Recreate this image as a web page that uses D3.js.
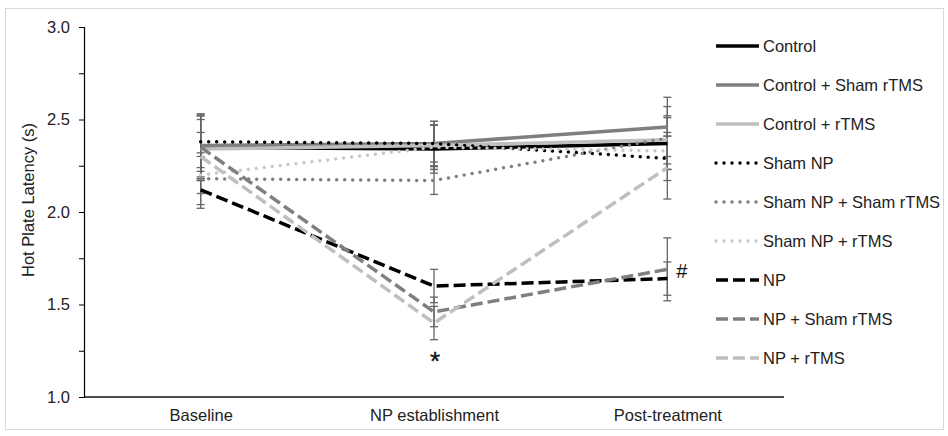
<!DOCTYPE html>
<html>
<head>
<meta charset="utf-8">
<script src="https://cdn.jsdelivr.net/npm/d3@7"></script>
<style>
  html, body { margin: 0; padding: 0; background: #fff; }
  svg { display: block; font-family: "Liberation Sans", Arial, sans-serif; }
</style>
</head>
<body>
<svg id="chart" width="948" height="436"></svg>
<script>
// ---- data ----
const categories = ["Baseline", "NP establishment", "Post-treatment"];
const seriesNames = ["Control", "Control + Sham rTMS", "Control + rTMS", "Sham NP",
  "Sham NP + Sham rTMS", "Sham NP + rTMS", "NP", "NP + Sham rTMS", "NP + rTMS"];
const controlValues = [2.35, 2.34, 2.37];
const controlShamValues = [2.36, 2.37, 2.46];
const controlRtmsValues = [2.34, 2.36, 2.39];
const shamNpValues = [2.38, 2.37, 2.29];
const shamNpShamValues = [2.18, 2.17, 2.40];
const shamNpRtmsValues = [2.20, 2.35, 2.33];
const npValues = [2.12, 1.60, 1.64];
const npShamValues = [2.35, 1.46, 1.69];
const npRtmsValues = [2.30, 1.40, 2.24];
const controlErr = [0.17, 0.13, 0.14];
const controlShamErr = [0.17, 0.12, 0.16];
const controlRtmsErr = [0.16, 0.13, 0.13];
const shamNpErr = [0.14, 0.10, 0.12];
const shamNpShamErr = [0.14, 0.075, 0.17];
const shamNpRtmsErr = [0.10, 0.12, 0.10];
const npErr = [0.10, 0.09, 0.09];
const npShamErr = [0.18, 0.08, 0.17];
const npRtmsErr = [0.13, 0.09, 0.17];
const yTicks = [1.0, 1.5, 2.0, 2.5, 3.0];
const yMinorTicks = [1.0, 1.25, 1.5, 1.75, 2.0, 2.25, 2.5, 2.75, 3.0];
const yTitle = "Hot Plate Latency (s)";
const annotations = [{cat: "NP establishment", text: "*"}, {cat: "Post-treatment", text: "#"}];

const allValues = [controlValues, controlShamValues, controlRtmsValues, shamNpValues,
  shamNpShamValues, shamNpRtmsValues, npValues, npShamValues, npRtmsValues];
const allErr = [controlErr, controlShamErr, controlRtmsErr, shamNpErr,
  shamNpShamErr, shamNpRtmsErr, npErr, npShamErr, npRtmsErr];

// styles (separate from data)
const colors = ["#000000", "#7f7f7f", "#bfbfbf", "#000000", "#7f7f7f", "#c8c8c8", "#000000", "#7f7f7f", "#bfbfbf"];
const kinds = ["solid", "solid", "solid", "dot", "dot", "dot", "dash", "dash", "dash"];

const series = seriesNames.map((name, i) => ({
  name, color: colors[i], kind: kinds[i],
  points: categories.map((c, j) => ({cat: c, v: allValues[i][j], e: allErr[i][j]}))
}));

// ---- layout ----
const svg = d3.select("#chart");
const mLeft = 84, mRight = 784, mTop = 27, mBottom = 397;

svg.append("rect").attr("x", 5.5).attr("y", 8.5).attr("width", 938).attr("height", 421)
  .attr("fill", "#fff").attr("stroke", "#d9d9d9").attr("stroke-width", 1);

const x = d3.scalePoint().domain(categories).range([mLeft, mRight]).padding(0.5);
const y = d3.scaleLinear().domain([1, 3]).range([mBottom, mTop]);

// y axis
const yAxis = svg.append("g").attr("transform", `translate(${mLeft},0)`)
  .call(d3.axisLeft(y).tickValues(yMinorTicks).tickSize(5).tickFormat(""));
yAxis.select(".domain").attr("stroke", "#000").attr("stroke-width", 1.2);
yAxis.selectAll(".tick line").attr("stroke", "#000").attr("stroke-width", 1);

svg.append("g").selectAll("text").data(yTicks).join("text")
  .attr("x", 70).attr("y", d => y(d)).attr("dy", "0.36em")
  .attr("text-anchor", "end").attr("font-size", 16.5).attr("fill", "#222")
  .text(d => d3.format(".1f")(d));

// x axis
const xAxis = svg.append("g").attr("transform", `translate(0,${mBottom})`)
  .call(d3.axisBottom(x).tickSize(0).tickPadding(12));
xAxis.select(".domain").attr("d", `M${mLeft},0H${mRight}`).attr("stroke", "#111").attr("stroke-width", 1.6);
xAxis.selectAll(".tick text").attr("font-size", 16.5).attr("fill", "#222")
  .attr("font-family", "'Liberation Sans', Arial, sans-serif");

// y title
svg.append("text").attr("transform", `translate(34,${(mTop + mBottom) / 2 - 12}) rotate(-90)`)
  .attr("text-anchor", "middle").attr("font-size", 16.5).attr("fill", "#222").text(yTitle);

// error bars
const eb = svg.append("g");
series.forEach(s => {
  s.points.forEach(p => {
    const cx = x(p.cat);
    const y1 = y(p.v + p.e), y2 = y(p.v - p.e);
    eb.append("line").attr("x1", cx).attr("x2", cx).attr("y1", y1).attr("y2", y2)
      .attr("stroke", "#666").attr("stroke-width", 1.3);
    [y1, y2].forEach(yy => eb.append("line").attr("x1", cx - 4).attr("x2", cx + 4)
      .attr("y1", yy).attr("y2", yy).attr("stroke", "#666").attr("stroke-width", 1.3));
  });
});

function applyStyle(sel, s) {
  sel.attr("stroke", s.color).attr("fill", "none");
  if (s.kind === "solid") {
    sel.attr("stroke-width", 3.5);
  } else if (s.kind === "dot") {
    sel.attr("stroke-width", 3.5).attr("stroke-dasharray", "0 8").attr("stroke-linecap", "round");
  } else {
    sel.attr("stroke-width", 3.5).attr("stroke-dasharray", "12 5");
  }
  return sel;
}

const line = d3.line().x(d => x(d.cat)).y(d => y(d.v));
const lines = svg.append("g");
series.forEach(s => {
  applyStyle(lines.append("path").datum(s.points).attr("d", line), s);
});

// annotations
annotations.forEach(a => {
  if (a.text === "*") {
    svg.append("text").attr("x", x(a.cat) + 1).attr("y", 370).attr("text-anchor", "middle")
      .attr("font-size", 26).attr("fill", "#111").attr("stroke", "#111").attr("stroke-width", 0.4)
      .text(a.text);
  } else {
    svg.append("text").attr("x", x(a.cat) + 9).attr("y", 278).attr("text-anchor", "start")
      .attr("font-size", 20).attr("fill", "#111").text(a.text);
  }
});

// legend
const lg = svg.append("g");
series.forEach((s, i) => {
  const ly = 46 + i * 39;
  applyStyle(lg.append("line").attr("x1", 716).attr("x2", 759).attr("y1", ly).attr("y2", ly), s);
  lg.append("text").attr("x", 763).attr("y", ly).attr("dy", "0.36em")
    .attr("font-size", 16.5).attr("fill", "#222").text(s.name);
});
</script>
</body>
</html>
